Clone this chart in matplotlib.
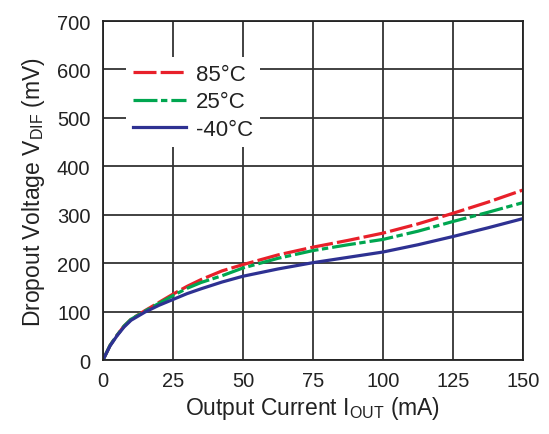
import matplotlib
matplotlib.use("Agg")
import matplotlib.pyplot as plt

plt.rcParams['font.family'] = ['Liberation Sans', 'DejaVu Sans']
plt.rcParams['mathtext.fontset'] = 'custom'
plt.rcParams['mathtext.rm'] = 'Liberation Sans'

current = [0, 2.5, 5, 7.5, 10, 15, 20, 25, 30, 35, 42.5, 50, 62.5, 75, 87.5, 100, 112.5, 125, 137.5, 150]
v85 = [0, 30, 51, 70, 84, 102, 119, 136, 152, 166, 184, 197, 217, 233, 247, 262, 281, 303, 326, 351]
v25 = [0, 30, 51, 70, 84, 101, 117, 133, 148, 160, 174, 190, 210, 226, 238, 249, 266, 286, 305, 325]
vm40 = [0, 29, 50, 68, 82, 99, 113, 125, 137, 147, 161, 173, 188, 201, 212, 223, 238, 255, 273, 292]

labels = ['85°C', '25°C', '-40°C']
colors = ['#E8202A', '#00A650', '#2E3192']

xticks = [0, 25, 50, 75, 100, 125, 150]
yticks = [0, 100, 200, 300, 400, 500, 600, 700]

fig = plt.figure(figsize=(5.49, 4.35), dpi=100)
ax = fig.add_axes([0.1876, 0.1701, 0.765, 0.7793])

ax.plot(current, v85, color=colors[0], lw=2.3, dashes=(7.2, 1.3), label=labels[0])
ax.plot(current, v25, color=colors[1], lw=2.3, dashes=(7.5, 1.1, 2, 1.25), label=labels[1])
ax.plot(current, vm40, color=colors[2], lw=2.3, label=labels[2])

ax.set_xlim(0, 150)
ax.set_ylim(0, 700)
ax.set_xticks(xticks)
ax.set_yticks(yticks)
ax.tick_params(length=0, labelsize=14.5, colors='#222222')
ax.tick_params(axis='y', pad=9)
ax.tick_params(axis='x', pad=8)
ax.grid(True, color='#333333', lw=1.3)
for s in ax.spines.values():
    s.set_color('#222222')
    s.set_linewidth(1.3)

ax.set_xlabel('Output Current I$_{\\mathrm{OUT}}$ (mA)', fontsize=16.5, color='#222222', labelpad=3)
ax.set_ylabel('Dropout Voltage V$_{\\mathrm{DIF}}$ (mV)', fontsize=16.5, color='#222222', labelpad=7)

leg = ax.legend(loc='upper left', bbox_to_anchor=(0.055, 0.894), borderaxespad=0,
                frameon=True, fancybox=False, facecolor='white', edgecolor='none',
                framealpha=1, fontsize=16, handlelength=2.4, handletextpad=0.45,
                labelspacing=0.3, borderpad=0.3)
for t in leg.get_texts():
    t.set_color('#222222')

fig.savefig('out.png', dpi=100)
